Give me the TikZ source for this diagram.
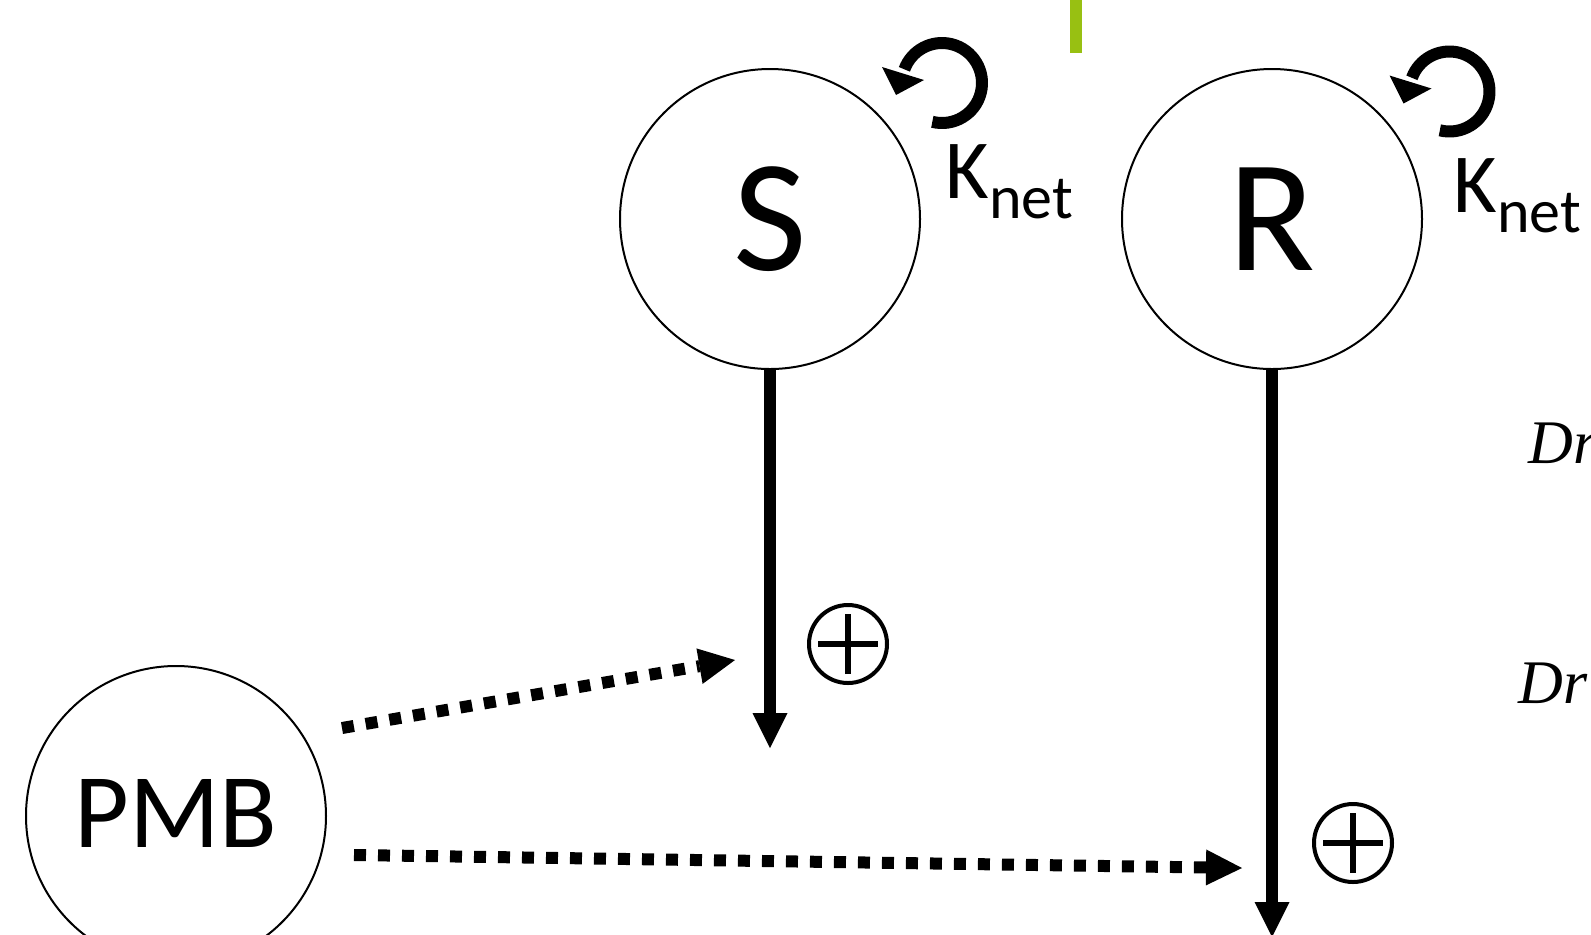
\documentclass[tikz,border=0pt]{standalone}
\usepackage{fontspec}
\setmainfont{Carlito}
\newfontfamily\drserif{Liberation Serif}
\usetikzlibrary{arrows.meta}
\definecolor{barGreen}{RGB}{152,192,18}
\begin{document}
\begin{tikzpicture}[x=0.5pt,y=0.5pt,
  bigcirc/.style={circle,draw,line width=1pt,minimum size=150pt,inner sep=0pt},
  solidarrow/.style={line width=6pt,-{Triangle[width=17.5pt,length=17.5pt,line width=0pt]}},
  dotarrow/.style={line width=6pt,dash pattern=on 6pt off 6pt,-{Triangle[width=18pt,length=18pt,line width=0pt]}},
  plusnode/.style={circle,draw,line width=2pt,minimum size=39pt,inner sep=0pt},
  crossline/.style={line width=3pt},
  knet/.style={anchor=base west,inner sep=0pt,font=\fontsize{42}{42}\selectfont},
  drtext/.style={anchor=base west,inner sep=0pt,font=\fontsize{31}{31}\selectfont\drserif\itshape},
  selfloop/.pic={
    \draw[line width=6pt] (-104:20pt) arc[start angle=-104,end angle=160,radius=20pt];
    \fill (-60,16) -- (-46,-12) -- (-18,3) -- cycle;
  }
]
\useasboundingbox (0,0) rectangle (1591,-934);

% green bar
\fill[barGreen] (1070,0) rectangle (1082,-53);

% main circles
\node[bigcirc,font=\fontsize{80}{80}\selectfont] (S) at (770,-219) {S};
\node[bigcirc,font=\fontsize{80}{80}\selectfont] (R) at (1272,-219) {R};
\node[bigcirc,font=\fontsize{53}{53}\selectfont] (PMB) at (176,-816) {\raisebox{2.5pt}{PMB}};

% self loops
\pic at (942,-83) {selfloop};
\pic at (1449.5,-91.5) {selfloop};

% K_net labels
\node[knet] (k1) at (945,-198) {K\raisebox{-10pt}{\fontsize{31}{31}\selectfont net}};
\node[knet] (k2) at (1453,-212) {K\raisebox{-10pt}{\fontsize{31}{31}\selectfont net}};

% vertical arrows
\coordinate (sTip) at (770,-748);
\coordinate (rTip) at (1272,-937);
\draw[solidarrow] (S.south) -- (sTip);
\draw[solidarrow] (R.south) -- (rTip);

% oplus symbols
\node[plusnode] (o1) at (848,-644) {};
\draw[crossline] ([xshift=-15pt]o1.center) -- ([xshift=15pt]o1.center);
\draw[crossline] ([yshift=-15pt]o1.center) -- ([yshift=15pt]o1.center);
\node[plusnode] (o2) at (1353,-843) {};
\draw[crossline] ([xshift=-15pt]o2.center) -- ([xshift=15pt]o2.center);
\draw[crossline] ([yshift=-15pt]o2.center) -- ([yshift=15pt]o2.center);

% dotted arrows from PMB
\coordinate (d1s) at (342,-728);
\coordinate (d1e) at (735,-660);
\coordinate (d2s) at (354,-855);
\coordinate (d2e) at (1242,-868);
\draw[dotarrow] (d1s) -- (d1e);
\draw[dotarrow] (d2s) -- (d2e);

% Dr texts
\node[drtext] (dr1) at (1528,-463) {Dr};
\node[drtext] (dr2) at (1518,-703) {Dr};
\end{tikzpicture}
\end{document}
